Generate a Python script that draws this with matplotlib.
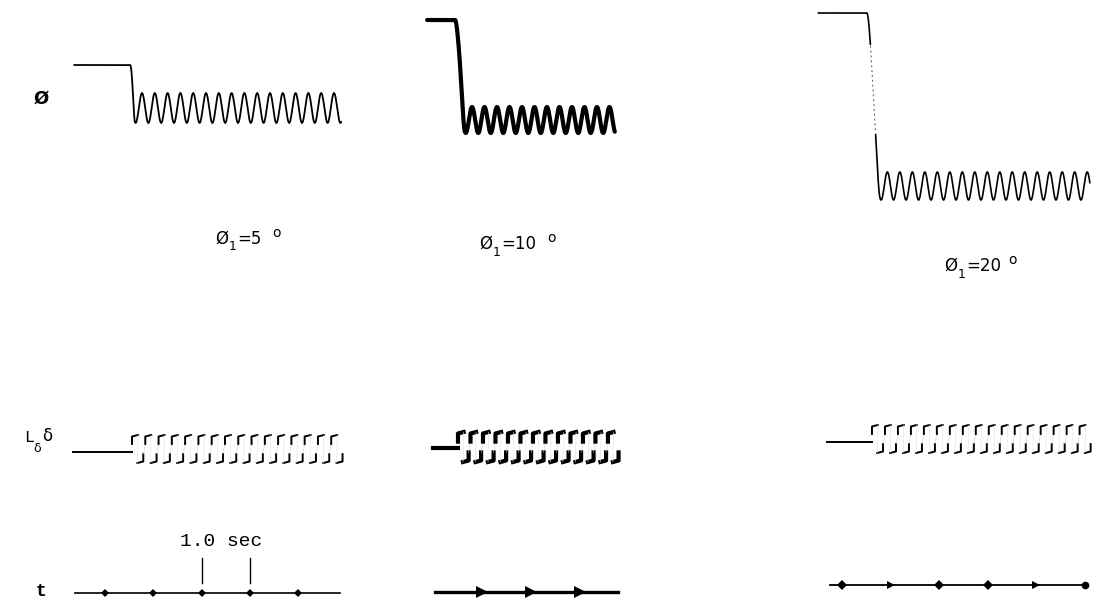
import numpy as np
import matplotlib
matplotlib.use("Agg")
import matplotlib.pyplot as plt

# ---------------- data ----------------
phi1_deg = [5, 10, 20]                        # initial bank angle of each run
panel_values = ["5", "10", "20"]
roll_final_deg = [0.0, 0.0, 0.0]
roll_osc_amp_deg = [1.74, 1.30, 1.62]
roll_osc_period_s = [0.265, 0.255, 0.257]
roll_first_peak_s = [0.766, -0.204, 1.19]
roll_t_start_s = [-0.64, -1.12, -0.49]
roll_t_release_s = [0.52, -0.55, 0.51]
roll_drop_time_s = [0.10, 0.20, 0.27]
roll_t_end_s = [4.89, 2.71, 5.10]

aileron_trim = [-0.2, -0.07, -0.2]            # normalised L_delta*delta before release
aileron_t_start_s = [-0.66, -1.00, -0.31]
aileron_first_switch_s = [0.559, -0.49, 0.617]
aileron_period_s = [0.275, 0.255, 0.267]
aileron_cycles = [16, 13, 17]

timer_marks_s = [[0, 1, 2, 3, 4], [0, 1, 2], [0, 1, 2, 3, 4, 5]]
timer_t_start_s = [-0.62, -0.96, -0.25]
timer_t_end_s = [4.87, 2.78, 5.00]
scale_bar_s = [2, 3]                          # the "1.0 sec" bar in run 1
scale_bar_label = "1.0 sec"

# ---------------- layout ----------------
px_per_s = [48.3, 49.0, 48.6]
x_origin = [105, 482, 842]
roll_y0 = [108, 120, 186]
roll_px_per_deg = [8.6, 10.0, 8.65]
roll_lw = [1.3, 3.0, 1.2]
ail_mid_y = [449, 447, 439]
ail_half = [14, 15, 14]
ail_lw = [1.4, 3.0, 1.4]
timer_y = [593, 592, 585]
timer_lw = [1.2, 2.4, 1.3]
timer_markers = [["D"] * 5, [">"] * 3, ["D", ">", "D", "D", ">", "o"]]
timer_ms = [4.5, 8, 5.5]
label_pos = [(215, 239), (479, 244), (944, 266)]

fig = plt.figure(figsize=(10.98, 6.03), dpi=100)
ax = fig.add_axes([0, 0, 1, 1])
ax.set_xlim(0, 1098)
ax.set_ylim(603, 0)
ax.axis("off")

def tx(i, t):
    return x_origin[i] + np.asarray(t) * px_per_s[i]

for i in range(3):
    # ---- roll angle trace ----
    t = np.linspace(roll_t_start_s[i], roll_t_end_s[i], 3000)
    u = np.clip((t - roll_t_release_s[i]) / roll_drop_time_s[i], 0, 1)
    s = 0.5 - 0.5 * np.cos(np.pi * u)
    level = phi1_deg[i] + (roll_final_deg[i] - phi1_deg[i]) * s
    osc = roll_osc_amp_deg[i] * np.cos(2 * np.pi * (t - roll_first_peak_s[i]) / roll_osc_period_s[i])
    phi = level + s * osc
    y = roll_y0[i] - phi * roll_px_per_deg[i]
    x = tx(i, t)
    if i == 2:
        faint = (s > 0.18) & (s < 0.75)
        ax.plot(np.where(faint, np.nan, x), np.where(faint, np.nan, y),
                color="black", lw=roll_lw[i], solid_capstyle="round")
        ax.plot(x[faint], y[faint], color="#555555", lw=0.7, ls=(0, (2, 3)))
    else:
        ax.plot(x, y, color="black", lw=roll_lw[i], solid_capstyle="round")

    # ---- aileron (L_delta delta) trace ----
    top = ail_mid_y[i] - ail_half[i]
    bot = ail_mid_y[i] + ail_half[i]
    trim_y = ail_mid_y[i] - aileron_trim[i] * ail_half[i]
    xs0 = tx(i, aileron_t_start_s[i])
    xsw = tx(i, aileron_first_switch_s[i])
    ax.plot([xs0, xsw], [trim_y, trim_y], color="black", lw=ail_lw[i])
    P = aileron_period_s[i] * px_per_s[i]
    hook = 0.32 * (bot - top)
    for k in range(aileron_cycles[i]):
        xr = xsw + k * P
        xb = xr + 0.40 * P
        w = 0.45 * P
        ax.plot([xr, xr, xr + w], [top + hook, top + 1.5, top], color="black",
                lw=ail_lw[i], solid_joinstyle="round")
        ax.plot([xb, xb + w, xb + w], [bot, bot - 1.5, bot - hook], color="black",
                lw=ail_lw[i], solid_joinstyle="round")
        if k < aileron_cycles[i] - 1:
            ax.plot([xb + w, xr + P], [bot - hook, top + hook], color="#cccccc", lw=0.4)
        ax.plot([xr + w, xb], [top, bot], color="#e2e2e2", lw=0.4)

    # ---- timer trace ----
    ax.plot([tx(i, timer_t_start_s[i]), tx(i, timer_t_end_s[i])], [timer_y[i], timer_y[i]],
            color="black", lw=timer_lw[i])
    for m, tm in zip(timer_markers[i], timer_marks_s[i]):
        ax.plot(tx(i, tm), timer_y[i], marker=m, color="black", ms=timer_ms[i], mew=0)

    # ---- run label ----
    lx, ly = label_pos[i]
    ax.text(lx, ly, "Ø", fontsize=12, family="DejaVu Sans", va="center", ha="left")
    ax.text(lx + 14, ly + 8, "1", fontsize=9, family="DejaVu Sans", va="center", ha="left")
    ax.text(lx + 22, ly, "=" + panel_values[i], fontsize=12, family="DejaVu Sans",
            va="center", ha="left")
    deg_dx = 57 if i == 0 else (68 if i == 1 else 64)
    ax.text(lx + deg_dx, ly - 6, "o", fontsize=10, family="DejaVu Sans", va="center", ha="left")

# scale bar in run 1
for tb in scale_bar_s:
    ax.plot([tx(0, tb), tx(0, tb)], [558, 583], color="black", lw=1.0)
ax.text(tx(0, np.mean(scale_bar_s)) - 5, 542, scale_bar_label, fontsize=14,
        family="Liberation Mono", va="center", ha="center")

# row labels
ax.text(34, 99, "Ø", fontsize=13, family="DejaVu Sans", weight="bold", va="center", ha="left")
ax.text(24, 438, "L", fontsize=12, family="Liberation Mono", va="center", ha="left")
ax.text(33, 448, "δ", fontsize=9, family="DejaVu Sans", va="center", ha="left")
ax.text(42, 436, "δ", fontsize=12, family="DejaVu Sans", va="center", ha="left")
ax.text(41, 592, "t", fontsize=13, family="Liberation Mono", weight="bold", va="center", ha="center")

fig.savefig("out.png", dpi=100)
